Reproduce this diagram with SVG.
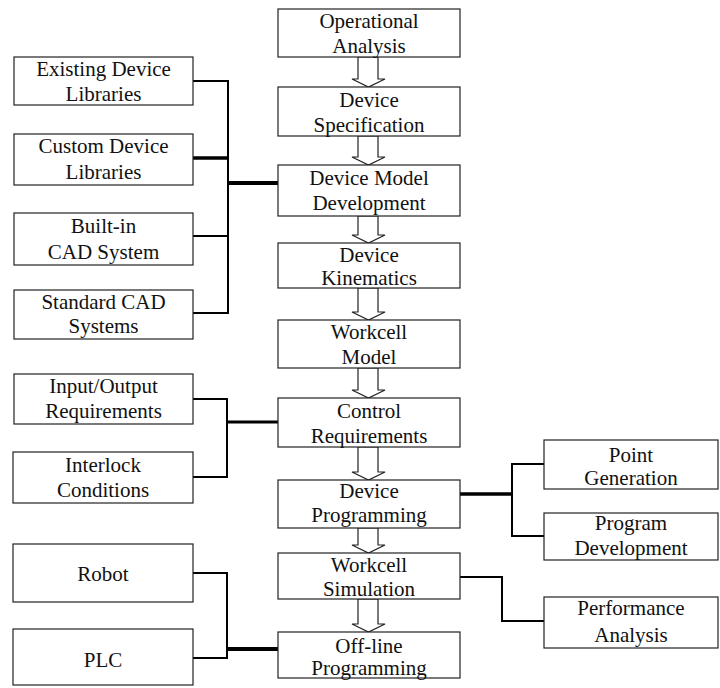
<svg xmlns="http://www.w3.org/2000/svg" width="720" height="688" viewBox="0 0 720 688">
<rect width="720" height="688" fill="#fff"/>
<g id="connectors" fill="none" stroke="#000" stroke-width="2">
<polyline points="193,81 228,81 228,313 193,313"/>
<line x1="193" y1="158" x2="227" y2="158" stroke-width="3.5"/>
<line x1="193" y1="236" x2="228" y2="236"/>
<line x1="228" y1="183" x2="278" y2="183" stroke-width="4"/>
<polyline points="193,399 227,399 227,477 193,477"/>
<line x1="227" y1="422" x2="278" y2="422" stroke-width="3"/>
<line x1="460" y1="494" x2="512" y2="494" stroke-width="3.5"/>
<polyline points="544,464 512,464 512,536 544,536"/>
<polyline points="460,577 502,577 502,621 544,621"/>
<polyline points="193,573 227,573 227,658 193,658"/>
<line x1="227" y1="649" x2="278" y2="649" stroke-width="4"/>
<g fill="#fff" stroke="#222" stroke-width="1.2">
<polygon points="358,57 358,79 352,79 368.5,87 385,79 378,79 378,57"/>
<polygon points="358,136 358,157 352,157 368.5,165 385,157 378,157 378,136"/>
<polygon points="358,216 358,235 352,235 368.5,243 385,235 378,235 378,216"/>
<polygon points="358,288 358,312 352,312 368.5,320 385,312 378,312 378,288"/>
<polygon points="358,368 358,390 352,390 368.5,398 385,390 378,390 378,368"/>
<polygon points="358,447 358,472 352,472 368.5,480 385,472 378,472 378,447"/>
<polygon points="358,528 358,545 352,545 368.5,553 385,545 378,545 378,528"/>
<polygon points="358,599 358,624 352,624 368.5,632 385,624 378,624 378,599"/>
</g>
</g>
<g font-family="Liberation Serif" font-size="21" fill="#111" text-anchor="middle">
<g id="n-operational-analysis"><rect fill="#fff" stroke="#222" stroke-width="1.2" x="278" y="9" width="182" height="48"/><text font-family="Liberation Serif" x="369" y="28">Operational</text><text font-family="Liberation Serif" x="369" y="53">Analysis</text></g>
<g id="n-device-specification"><rect fill="#fff" stroke="#222" stroke-width="1.2" x="278" y="87" width="182" height="49"/><text font-family="Liberation Serif" x="369" y="107">Device</text><text font-family="Liberation Serif" x="369" y="132">Specification</text></g>
<g id="n-device-model-development"><rect fill="#fff" stroke="#222" stroke-width="1.2" x="278" y="165" width="182" height="51"/><text font-family="Liberation Serif" x="369" y="185">Device Model</text><text font-family="Liberation Serif" x="369" y="210">Development</text></g>
<g id="n-device-kinematics"><rect fill="#fff" stroke="#222" stroke-width="1.2" x="278" y="243" width="182" height="45"/><text font-family="Liberation Serif" x="369" y="262">Device</text><text font-family="Liberation Serif" x="369" y="285">Kinematics</text></g>
<g id="n-workcell-model"><rect fill="#fff" stroke="#222" stroke-width="1.2" x="278" y="320" width="182" height="48"/><text font-family="Liberation Serif" x="369" y="339">Workcell</text><text font-family="Liberation Serif" x="369" y="364">Model</text></g>
<g id="n-control-requirements"><rect fill="#fff" stroke="#222" stroke-width="1.2" x="278" y="398" width="182" height="49"/><text font-family="Liberation Serif" x="369" y="418">Control</text><text font-family="Liberation Serif" x="369" y="443">Requirements</text></g>
<g id="n-device-programming"><rect fill="#fff" stroke="#222" stroke-width="1.2" x="278" y="480" width="182" height="48"/><text font-family="Liberation Serif" x="369" y="498">Device</text><text font-family="Liberation Serif" x="369" y="522">Programming</text></g>
<g id="n-workcell-simulation"><rect fill="#fff" stroke="#222" stroke-width="1.2" x="278" y="553" width="182" height="46"/><text font-family="Liberation Serif" x="369" y="572">Workcell</text><text font-family="Liberation Serif" x="369" y="596">Simulation</text></g>
<g id="n-offline-programming"><rect fill="#fff" stroke="#222" stroke-width="1.2" x="278" y="632" width="182" height="46"/><text font-family="Liberation Serif" x="369" y="653">Off-line</text><text font-family="Liberation Serif" x="369" y="675">Programming</text></g>
<g id="n-existing-device-libraries"><rect fill="#fff" stroke="#222" stroke-width="1.2" x="14" y="57" width="179" height="48"/><text font-family="Liberation Serif" x="103.5" y="76">Existing Device</text><text font-family="Liberation Serif" x="103.5" y="101">Libraries</text></g>
<g id="n-custom-device-libraries"><rect fill="#fff" stroke="#222" stroke-width="1.2" x="14" y="134" width="179" height="51"/><text font-family="Liberation Serif" x="103.5" y="153">Custom Device</text><text font-family="Liberation Serif" x="103.5" y="179">Libraries</text></g>
<g id="n-builtin-cad-system"><rect fill="#fff" stroke="#222" stroke-width="1.2" x="14" y="213" width="179" height="52"/><text font-family="Liberation Serif" x="103.5" y="233">Built-in</text><text font-family="Liberation Serif" x="103.5" y="259">CAD System</text></g>
<g id="n-standard-cad-systems"><rect fill="#fff" stroke="#222" stroke-width="1.2" x="14" y="290" width="179" height="49"/><text font-family="Liberation Serif" x="103.5" y="309">Standard CAD</text><text font-family="Liberation Serif" x="103.5" y="333">Systems</text></g>
<g id="n-io-requirements"><rect fill="#fff" stroke="#222" stroke-width="1.2" x="14" y="374" width="179" height="50"/><text font-family="Liberation Serif" x="103.5" y="393">Input/Output</text><text font-family="Liberation Serif" x="103.5" y="418">Requirements</text></g>
<g id="n-interlock-conditions"><rect fill="#fff" stroke="#222" stroke-width="1.2" x="13" y="452" width="180" height="51"/><text font-family="Liberation Serif" x="103" y="472">Interlock</text><text font-family="Liberation Serif" x="103" y="497">Conditions</text></g>
<g id="n-robot"><rect fill="#fff" stroke="#222" stroke-width="1.2" x="13" y="544" width="180" height="58"/><text font-family="Liberation Serif" x="103" y="581">Robot</text></g>
<g id="n-plc"><rect fill="#fff" stroke="#222" stroke-width="1.2" x="13" y="629" width="180" height="56"/><text font-family="Liberation Serif" x="103" y="667">PLC</text></g>
<g id="n-point-generation"><rect fill="#fff" stroke="#222" stroke-width="1.2" x="544" y="440" width="174" height="49"/><text font-family="Liberation Serif" x="631" y="462">Point</text><text font-family="Liberation Serif" x="631" y="485">Generation</text></g>
<g id="n-program-development"><rect fill="#fff" stroke="#222" stroke-width="1.2" x="544" y="513" width="174" height="47"/><text font-family="Liberation Serif" x="631" y="530">Program</text><text font-family="Liberation Serif" x="631" y="555">Development</text></g>
<g id="n-performance-analysis"><rect fill="#fff" stroke="#222" stroke-width="1.2" x="544" y="597" width="174" height="51"/><text font-family="Liberation Serif" x="631" y="615">Performance</text><text font-family="Liberation Serif" x="631" y="642">Analysis</text></g>
</g>
</svg>
